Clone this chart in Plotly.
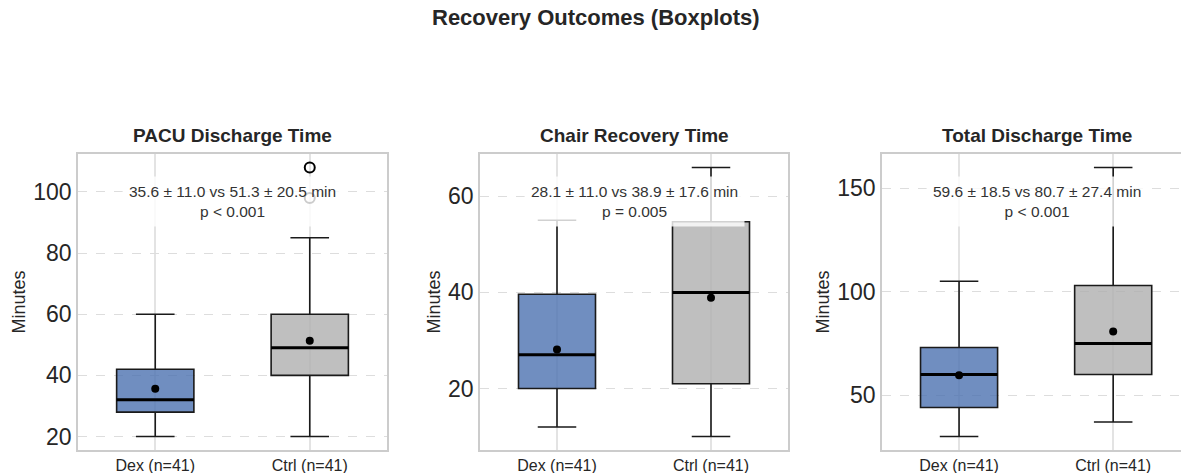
import plotly.graph_objects as go

# ---- data ----
groups = ["Dex (n=41)", "Ctrl (n=41)"]
panels = ["PACU Discharge Time", "Chair Recovery Time", "Total Discharge Time"]
stats_text = ["35.6 ± 11.0 vs 51.3 ± 20.5 min<br>p < 0.001",
              "28.1 ± 11.0 vs 38.9 ± 17.6 min<br>p = 0.005",
              "59.6 ± 18.5 vs 80.7 ± 27.4 min<br>p < 0.001"]
# per panel: [Dex, Ctrl]
lower_whisker = [[20, 20], [12, 10], [30, 37]]
q1 = [[28, 40], [20, 21], [44, 60]]
median = [[32, 49], [27, 40], [60, 75]]
q3 = [[42, 60], [39.6, 54.7], [73, 103]]
upper_whisker = [[60, 85], [55, 66], [105, 160]]
means = [[35.6, 51.3], [28.1, 38.9], [59.6, 80.7]]
outliers_ctrl = [[108, 98], [], []]
y_ticks = [[20, 40, 60, 80, 100], [20, 40, 60], [50, 100, 150]]

fills = ["rgba(76,114,176,0.8)", "rgba(175,175,175,0.8)"]

W, H = 1181, 473
x_px = [[78, 387], [480, 788], [882, 1181]]
x_domains = [[a / W, b / W] for a, b in x_px]
x_ranges = [[-0.5, 1.5], [-0.5, 1.5], [-0.5, 1.44]]
y_domain = [(H - 450) / H, (H - 154) / H]

FONT = "Liberation Sans, Arial, sans-serif"
TXT = "#262626"

fig = go.Figure()
annotations = []
BW = 0.5

for p in range(3):
    xa = "x" if p == 0 else f"x{p+1}"
    ya = "y" if p == 0 else f"y{p+1}"
    for g in range(2):
        fig.add_trace(go.Box(
            x=[g], q1=[q1[p][g]], median=[median[p][g]], q3=[q3[p][g]],
            lowerfence=[lower_whisker[p][g]], upperfence=[upper_whisker[p][g]],
            width=BW, whiskerwidth=0.5, fillcolor=fills[g],
            line=dict(color="#1a1a1a", width=1.6),
            boxpoints=False, hoverinfo="skip", showlegend=False,
            xaxis=xa, yaxis=ya))
        # thick median line
        fig.add_trace(go.Scatter(
            x=[g - BW / 2, g + BW / 2], y=[median[p][g], median[p][g]],
            mode="lines", line=dict(color="black", width=3),
            showlegend=False, hoverinfo="skip", xaxis=xa, yaxis=ya))
    # means
    fig.add_trace(go.Scatter(
        x=[0, 1], y=means[p], mode="markers",
        marker=dict(color="black", size=8),
        showlegend=False, hoverinfo="skip", xaxis=xa, yaxis=ya))
    # outliers
    if outliers_ctrl[p]:
        fig.add_trace(go.Scatter(
            x=[1] * len(outliers_ctrl[p]), y=outliers_ctrl[p], mode="markers",
            marker=dict(symbol="circle-open", color="black", size=10, line=dict(width=2)),
            showlegend=False, hoverinfo="skip", xaxis=xa, yaxis=ya))

    allv = lower_whisker[p] + upper_whisker[p] + outliers_ctrl[p]
    lo, hi = min(allv), max(allv)
    pad = (hi - lo) * 0.05
    xkey = "xaxis" if p == 0 else f"xaxis{p+1}"
    ykey = "yaxis" if p == 0 else f"yaxis{p+1}"
    fig.update_layout(**{
        xkey: dict(domain=x_domains[p], range=x_ranges[p], anchor=ya,
                   tickvals=[0, 1], ticktext=groups, automargin=False,
                   tickfont=dict(family=FONT, size=16, color=TXT),
                   showgrid=True, gridcolor="#e3e3e3", gridwidth=1.5,
                   showline=True, mirror=True, linecolor="#cccccc", linewidth=1.5,
                   zeroline=False, ticks=""),
        ykey: dict(domain=y_domain, range=[lo - pad, hi + pad], anchor=xa,
                   tickvals=y_ticks[p], automargin=False,
                   tickfont=dict(family=FONT, size=23, color=TXT),
                   showgrid=True, gridcolor="#dddddd", gridwidth=1.2, griddash="dash",
                   showline=True, mirror=True, linecolor="#cccccc", linewidth=1.5,
                   zeroline=False, ticks="",
                   title=dict(text="Minutes", font=dict(family=FONT, size=18, color=TXT), standoff=3)),
    })
    # subplot title centred over the (uncropped) panel width
    xc = (x_px[p][0] + 154.5) / W
    annotations.append(dict(
        text=f"<b>{panels[p]}</b>", x=xc,
        y=(H - 135) / H, xref="paper", yref="paper", showarrow=False,
        xanchor="center", yanchor="middle",
        font=dict(family=FONT, size=19, color=TXT)))
    annotations.append(dict(
        text=stats_text[p], x=xc, y=0.838,
        xref="paper", yref=f"{ya} domain", showarrow=False,
        xanchor="center", yanchor="middle", align="center",
        bgcolor="rgba(255,255,255,0.8)", borderpad=6,
        font=dict(family=FONT, size=15.5, color="#333333")))

annotations.append(dict(
    text="<b>Recovery Outcomes (Boxplots)</b>", x=596 / W, y=(H - 18) / H,
    xref="paper", yref="paper", showarrow=False, xanchor="center", yanchor="middle",
    font=dict(family=FONT, size=22, color=TXT)))

fig.update_layout(
    width=W, height=H, margin=dict(l=0, r=0, t=0, b=0),
    paper_bgcolor="white", plot_bgcolor="white",
    annotations=annotations, showlegend=False)

fig.write_html("out.html", config={"displayModeBar": False},
               post_script="document.body.style.margin='0';document.body.style.overflow='hidden';")
